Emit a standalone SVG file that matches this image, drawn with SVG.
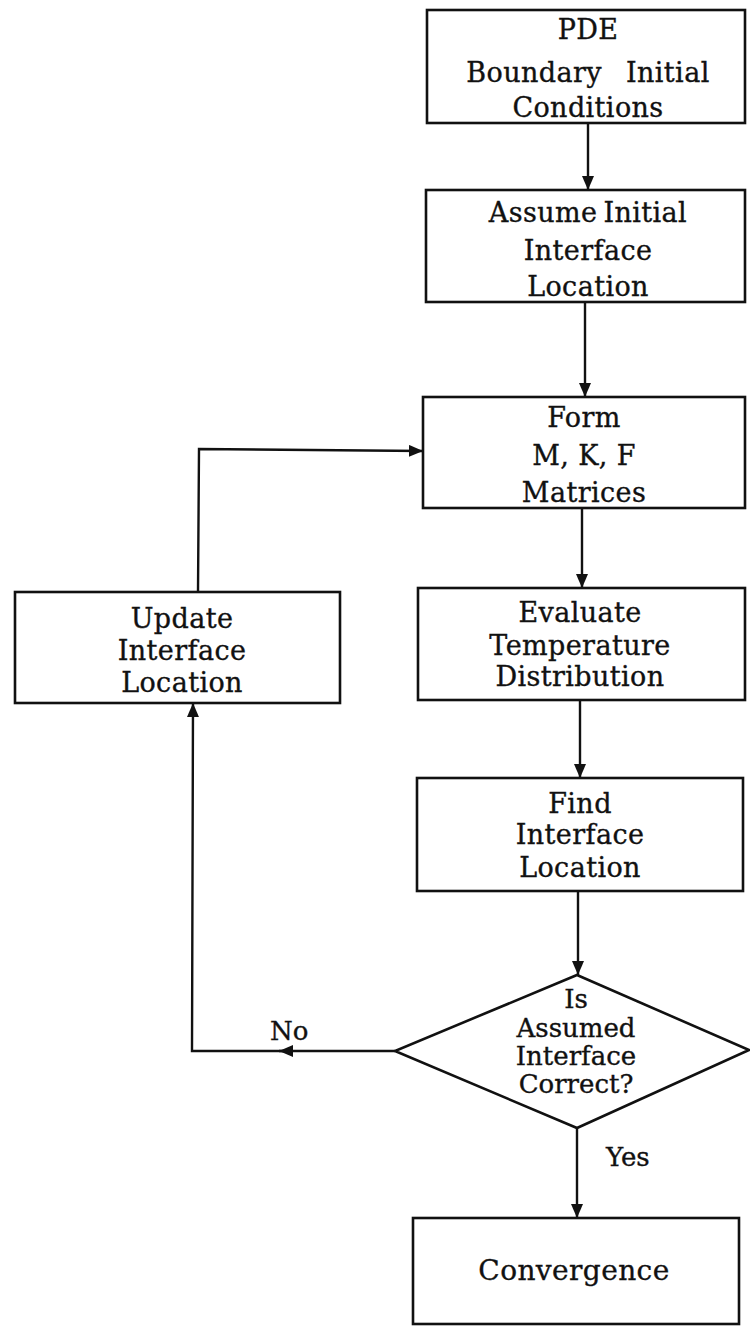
<svg xmlns="http://www.w3.org/2000/svg" width="750" height="1326" viewBox="0 0 750 1326">
<style>
.box{fill:#fff;stroke:#111;stroke-width:2.6}
.ln{fill:none;stroke:#111;stroke-width:2.4}
.t{font-family:"DejaVu Serif","Liberation Serif",serif;font-size:27px;letter-spacing:0.4px;fill:#111;stroke:#111;stroke-width:0.35;text-anchor:middle}
.d{font-size:26px;letter-spacing:0}
.lab{font-family:"DejaVu Serif","Liberation Serif",serif;font-size:26px;fill:#111;stroke:#111;stroke-width:0.35}
</style>
<defs>
<marker id="ah" viewBox="0 0 14 12" refX="14" refY="6" markerWidth="14" markerHeight="12" markerUnits="userSpaceOnUse" orient="auto">
<path d="M0,0 L14,6 L0,12 z" fill="#111"/>
</marker>
</defs>
<rect width="750" height="1326" fill="#fff"/>
<g id="connectors">
<line class="ln" x1="588" y1="123" x2="588" y2="190" marker-end="url(#ah)"/>
<line class="ln" x1="585" y1="302" x2="585" y2="397" marker-end="url(#ah)"/>
<line class="ln" x1="582" y1="508" x2="582" y2="588" marker-end="url(#ah)"/>
<line class="ln" x1="580" y1="700" x2="580" y2="778" marker-end="url(#ah)"/>
<line class="ln" x1="578" y1="891" x2="578" y2="975" marker-end="url(#ah)"/>
<line class="ln" x1="577" y1="1128" x2="577" y2="1218" marker-end="url(#ah)"/>
<line class="ln" x1="395" y1="1051" x2="279" y2="1051" marker-end="url(#ah)"/>
<polyline class="ln" points="285,1051 192,1051 193,703" marker-end="url(#ah)"/>
<polyline class="ln" points="198,592 199,449 423,451" marker-end="url(#ah)"/>
</g>
<g id="pde">
<rect class="box" x="427" y="10" width="318" height="113"/>
<text class="t" x="588" y="39">PDE</text>
<text class="t" x="588" y="82">Boundary<tspan dx="24">Initial</tspan></text>
<text class="t" x="588" y="117">Conditions</text>
</g>
<g id="assume">
<rect class="box" x="426" y="190" width="319" height="112"/>
<text class="t" x="588" y="222">Assume<tspan dx="6">Initial</tspan></text>
<text class="t" x="588" y="260">Interface</text>
<text class="t" x="588" y="296">Location</text>
</g>
<g id="form">
<rect class="box" x="423" y="397" width="322" height="111"/>
<text class="t" x="584" y="427">Form</text>
<text class="t" x="584" y="465">M, K, F</text>
<text class="t" x="584" y="502">Matrices</text>
</g>
<g id="evaluate">
<rect class="box" x="418" y="588" width="327" height="112"/>
<text class="t" x="580" y="622">Evaluate</text>
<text class="t" x="580" y="655">Temperature</text>
<text class="t" x="580" y="686">Distribution</text>
</g>
<g id="find">
<rect class="box" x="417" y="778" width="326" height="113"/>
<text class="t" x="580" y="813">Find</text>
<text class="t" x="580" y="844">Interface</text>
<text class="t" x="580" y="877">Location</text>
</g>
<g id="decision">
<polygon class="box" points="577,975 749,1050 577,1128 395,1051"/>
<text class="t d" x="576" y="1008">Is</text>
<text class="t d" x="576" y="1037">Assumed</text>
<text class="t d" x="576" y="1065">Interface</text>
<text class="t d" x="576" y="1093">Correct?</text>
</g>
<g id="update">
<rect class="box" x="15" y="592" width="325" height="111"/>
<text class="t" x="182" y="628">Update</text>
<text class="t" x="182" y="660">Interface</text>
<text class="t" x="182" y="692">Location</text>
</g>
<g id="convergence">
<rect class="box" x="413" y="1218" width="326" height="106"/>
<text class="t" x="574" y="1280" style="font-size:28px">Convergence</text>
</g>
<g id="labels">
<text class="lab" x="270" y="1040">No</text>
<text class="lab" x="606" y="1166">Yes</text>
</g>
</svg>
